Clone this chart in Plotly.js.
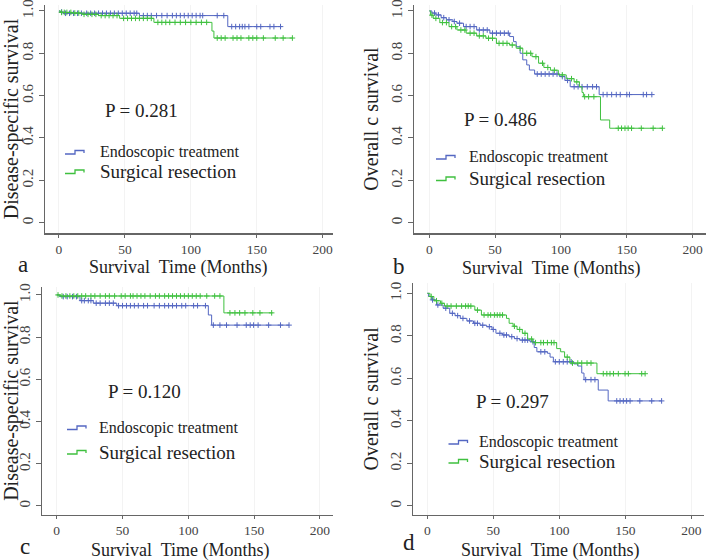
<!DOCTYPE html>
<html>
<head>
<meta charset="utf-8">
<script src="https://cdn.plot.ly/plotly-3.0.1.min.js"></script>
<style>
  body { margin: 0; background: white; }
  #chart { width: 708px; height: 560px; }
</style>
</head>
<body>
<div id="chart"></div>
<script>
// ---- data ----
var groupNames = ['Endoscopic treatment', 'Surgical resection'];
var yTickVals = [0, 0.2, 0.4, 0.6, 0.8, 1.0];
var yTickText = ['0', '0.2', '0.4', '0.6', '0.8', '1.0'];
var xTickVals = [0, 50, 100, 150, 200];

// panel a: disease-specific survival
var aEndoT = [0, 1, 3, 61, 128, 169];
var aEndoS = [1.0, 0.995, 0.989, 0.978, 0.926, 0.926];
var aEndoCens = [2, 5, 8, 11, 14, 17, 21, 24, 27, 30, 33, 36, 39, 42, 45, 48, 51, 54, 57, 59, 64, 67, 70, 74, 78, 82, 86, 89, 92, 95, 98, 101, 104, 107, 109, 120, 125, 131, 134, 137, 139, 141, 144, 150, 153, 160, 163, 168];
var aSurgT = [0, 1, 10, 18, 30, 46, 72, 116, 117.5, 177];
var aSurgS = [1.0, 0.993, 0.99, 0.984, 0.978, 0.965, 0.946, 0.905, 0.872, 0.872];
var aSurgCens = [2, 4, 6, 9, 12, 15, 19, 22, 25, 28, 32, 35, 38, 41, 44, 49, 52, 55, 58, 61, 64, 67, 70, 75, 78, 81, 84, 88, 92, 96, 100, 104, 108, 112, 120, 123, 126, 132, 135, 138, 144, 147, 150, 155, 164, 170, 177];

// panel b: overall survival
var bEndoT = [0, 2, 5, 9, 13, 18, 21, 26, 36, 46, 61, 64, 66, 69, 71, 74, 76, 80, 99, 103, 107, 129, 169];
var bEndoS = [1.0, 0.99, 0.981, 0.968, 0.958, 0.95, 0.942, 0.926, 0.91, 0.895, 0.879, 0.855, 0.831, 0.8, 0.769, 0.745, 0.721, 0.702, 0.69, 0.672, 0.642, 0.605, 0.605];
var bEndoCens = [4, 7, 11, 15, 19, 23, 28, 31, 34, 38, 41, 44, 48, 51, 54, 57, 60, 82, 85, 88, 91, 94, 97, 101, 105, 110, 113, 116, 120, 124, 127, 132, 135, 138.5, 142, 145, 150, 152, 162.5, 165, 169];
var bSurgT = [0, 1, 3, 8, 15, 21, 28, 36, 43, 51, 61, 66, 71, 78, 83, 87, 92, 98, 104, 110, 114, 116, 117, 130, 137, 177];
var bSurgS = [1.0, 0.98, 0.965, 0.945, 0.926, 0.91, 0.895, 0.882, 0.871, 0.847, 0.839, 0.824, 0.8, 0.784, 0.753, 0.733, 0.72, 0.698, 0.68, 0.665, 0.642, 0.615, 0.595, 0.485, 0.446, 0.446];
var bSurgCens = [2, 5, 10, 13, 17, 20, 24, 27, 31, 34, 38, 41, 45, 48, 53, 56, 59, 63, 69, 74, 77, 81, 86, 90, 95, 101, 108, 112, 118, 121, 125, 143.5, 146, 148.6, 151, 153.6, 161, 170, 177];

// panel c: disease-specific survival
var cEndoT = [0, 2, 17.7, 27.8, 45.6, 115.2, 117.7, 176.5];
var cEndoS = [1.0, 0.992, 0.973, 0.961, 0.949, 0.905, 0.857, 0.857];
var cEndoCens = [5, 8, 12, 15, 19, 21, 24, 26, 30, 33, 37, 40, 43, 47, 50, 53, 56, 59, 62, 66, 69, 74, 78, 82, 85, 88, 91, 95, 98, 104, 107, 113, 119, 124, 129, 137, 144, 147, 149.6, 153, 161, 170, 176.5];
var cSurgT = [0, 3, 127, 164];
var cSurgS = [1.0, 0.995, 0.915, 0.915];
var cSurgCens = [1, 4, 7, 10, 13, 16, 19, 22, 26, 29, 33, 37, 40, 44, 49, 52, 56, 58, 61, 64, 67, 71, 75, 78, 82, 85, 88, 91, 94, 97, 100, 103, 106, 109, 114, 120, 124, 131.6, 135.4, 139, 143, 149, 154.4, 163.3];

// panel d: overall survival
var dEndoT = [0, 1, 3, 7, 12, 17, 21, 25, 30, 35, 40, 45, 49, 52, 57, 62, 66, 70, 77.8, 81, 83, 91, 93, 95.5, 111, 114, 117, 118.7, 129.5, 137, 177.5];
var dEndoS = [1.0, 0.985, 0.969, 0.945, 0.93, 0.906, 0.895, 0.882, 0.87, 0.859, 0.85, 0.843, 0.83, 0.812, 0.804, 0.796, 0.787, 0.78, 0.772, 0.745, 0.725, 0.718, 0.7, 0.678, 0.668, 0.658, 0.625, 0.594, 0.545, 0.494, 0.494];
var dEndoCens = [4, 8, 14, 19, 23, 27, 32, 36, 38, 42, 47, 50, 55, 58, 60, 64, 68, 72, 74, 76, 80, 86, 89, 97, 100, 103, 106, 109, 120, 124, 127, 143.5, 146, 148.5, 151, 153.6, 161, 170, 177.5];
var dSurgT = [0, 2, 5, 10, 13, 36, 41, 60, 62, 65, 68, 72, 76, 80, 98, 101, 104, 108, 128.5, 165];
var dSurgS = [1.0, 0.985, 0.965, 0.953, 0.94, 0.921, 0.898, 0.882, 0.859, 0.845, 0.83, 0.812, 0.785, 0.768, 0.74, 0.725, 0.7, 0.672, 0.622, 0.622];
var dSurgCens = [3, 7, 11, 15, 18, 22, 26, 29, 31, 33, 38, 43, 46, 48, 51, 53, 55, 57, 66, 70, 74, 79, 82, 86, 88, 91, 94, 96, 106, 110, 114, 117, 121, 124, 133.3, 136, 138.4, 141, 144.7, 149.8, 152.3, 162.4, 165];

var pValues = ['P = 0.281', 'P = 0.486', 'P = 0.120', 'P = 0.297'];
var yTitles = ['Disease-specific survival', 'Overall c survival', 'Disease-specific survival', 'Overall c survival'];
var panelLetters = ['a', 'b', 'c', 'd'];

var blue = '#5467c2';
var green = '#3fc03f';
var font = 'Liberation Serif, Times New Roman, serif';
var W = 708, H = 560;

// survival value of a step curve at time t
function survAt(T, S, t) {
    var s = S[0];
    for (var i = 0; i < T.length; i++) {
        if (T[i] <= t) s = S[i];
    }
    return s;
}

function px(x) { return x / W; }
function py(y) { return 1 - y / H; }

// panel geometry in page pixels
var panels = [
    {T: [aEndoT, aSurgT], S: [aEndoS, aSurgS], C: [aEndoCens, aSurgCens],
     xdom: [45, 333], ydom: [233, 5], xr: [-10.6, 207.8], yr: [-0.0487, 1.028],
     p: [141.7, 111], leg: [65, 98, 152, 171.5], letter: [23, 264], xt: [179, 267.5]},
    {T: [bEndoT, bSurgT], S: [bEndoS, bSurgS], C: [bEndoCens, bSurgCens],
     xdom: [414, 705.7], ydom: [233, 5], xr: [-11.6, 209.9], yr: [-0.0487, 1.028],
     p: [500.7, 119], leg: [436, 467.3, 157, 178.5], letter: [399, 266], xt: [551, 268]},
    {T: [cEndoT, cSurgT], S: [cEndoS, cSurgS], C: [cEndoCens, cSurgCens],
     xdom: [42.3, 333], ydom: [514.5, 286.7], xr: [-10.94, 209.9], yr: [-0.0403, 1.039],
     p: [144, 391.7], leg: [67, 97.3, 427.5, 452], letter: [25, 546], xt: [180, 550]},
    {T: [dEndoT, dSurgT], S: [dEndoS, dSurgS], C: [dEndoCens, dSurgCens],
     xdom: [413.3, 704], ydom: [514.5, 283.3], xr: [-10.6, 209.6], yr: [-0.04, 1.047],
     p: [512.3, 401.7], leg: [448.5, 477.3, 442, 461], letter: [409, 542], xt: [550, 550]}
];

var data = [];
var layout = {
    width: W, height: H,
    margin: {l: 0, r: 0, t: 0, b: 0},
    paper_bgcolor: 'white', plot_bgcolor: 'white',
    showlegend: false,
    font: {family: font, color: '#222'},
    annotations: [],
    shapes: []
};
var colors = [blue, green];

panels.forEach(function (p, k) {
    var sfx = k === 0 ? '' : String(k + 1);
    var xa = 'x' + sfx, ya = 'y' + sfx;
    for (var g = 0; g < 2; g++) {
        data.push({
            type: 'scatter', mode: 'lines', xaxis: xa, yaxis: ya,
            x: p.T[g], y: p.S[g], name: groupNames[g],
            line: {shape: 'hv', color: colors[g], width: 1}
        });
        var cy = p.C[g].map(function (t) { return survAt(p.T[g], p.S[g], t); });
        data.push({
            type: 'scatter', mode: 'markers', xaxis: xa, yaxis: ya,
            x: p.C[g], y: cy, name: groupNames[g] + ' (censored)',
            marker: {symbol: 'cross-thin', size: 4, color: colors[g], line: {color: colors[g], width: 1}}
        });
    }
    layout['xaxis' + sfx] = {
        domain: [px(p.xdom[0]), px(p.xdom[1])], anchor: ya,
        range: p.xr, tickvals: xTickVals, ticks: 'outside', ticklen: 3,
        tickcolor: '#666', showline: true, linecolor: '#666', linewidth: 1.5,
        zeroline: false, showgrid: true, gridcolor: '#f3f3f3',
        ticklabeloverflow: 'allow',
        tickfont: {family: font, size: 13.5, color: '#444'}
    };
    layout['yaxis' + sfx] = {
        domain: [py(p.ydom[0]), py(p.ydom[1])], anchor: xa,
        range: p.yr, tickvals: yTickVals, ticktext: yTickText, tickangle: -90,
        ticks: 'outside', ticklen: 5, tickcolor: '#666',
        showline: true, linecolor: '#666', linewidth: 1.5,
        zeroline: false, showgrid: false,
        ticklabeloverflow: 'allow',
        tickfont: {family: font, size: 15, color: '#444'},
        title: {text: yTitles[k], font: {family: font, size: 20, color: '#222'}, standoff: 4}
    };
    // p value
    layout.annotations.push({xref: 'paper', yref: 'paper', x: px(p.p[0]), y: py(p.p[1]),
        text: pValues[k], showarrow: false, xanchor: 'center', yanchor: 'middle',
        font: {family: font, size: 19, color: '#222'}});
    // x title and panel letter
    layout.annotations.push({xref: 'paper', yref: 'paper', x: px(p.xt[0]), y: py(p.xt[1]),
        text: 'Survival\u00a0 Time (Months)', showarrow: false, xanchor: 'center', yanchor: 'middle',
        font: {family: font, size: 18, color: '#222'}});
    layout.annotations.push({xref: 'paper', yref: 'paper', x: px(p.letter[0]), y: py(p.letter[1]),
        text: panelLetters[k], showarrow: false, xanchor: 'center', yanchor: 'middle',
        font: {family: font, size: 23, color: '#222'}});
    // legend entries: step glyph + label
    var legY = [p.leg[2], p.leg[3]];
    var legSize = [16, 19];
    for (var g2 = 0; g2 < 2; g2++) {
        var x0 = p.leg[0], yc = legY[g2];
        var path = 'M' + px(x0) + ',' + py(yc + 2) +
            ' L' + px(x0 + 10) + ',' + py(yc + 2) +
            ' L' + px(x0 + 10) + ',' + py(yc - 1.5) +
            ' L' + px(x0 + 19) + ',' + py(yc - 1.5) +
            ' L' + px(x0 + 19) + ',' + py(yc + 1);
        layout.shapes.push({type: 'path', xref: 'paper', yref: 'paper', path: path,
            line: {color: colors[g2], width: 1.3}});
        layout.annotations.push({xref: 'paper', yref: 'paper', x: px(p.leg[1]), y: py(yc),
            text: groupNames[g2], showarrow: false, xanchor: 'left', yanchor: 'middle',
            font: {family: font, size: legSize[g2], color: '#222'}});
    }
});

Plotly.newPlot('chart', data, layout, {displayModeBar: false, staticPlot: true});
</script>
</body>
</html>
